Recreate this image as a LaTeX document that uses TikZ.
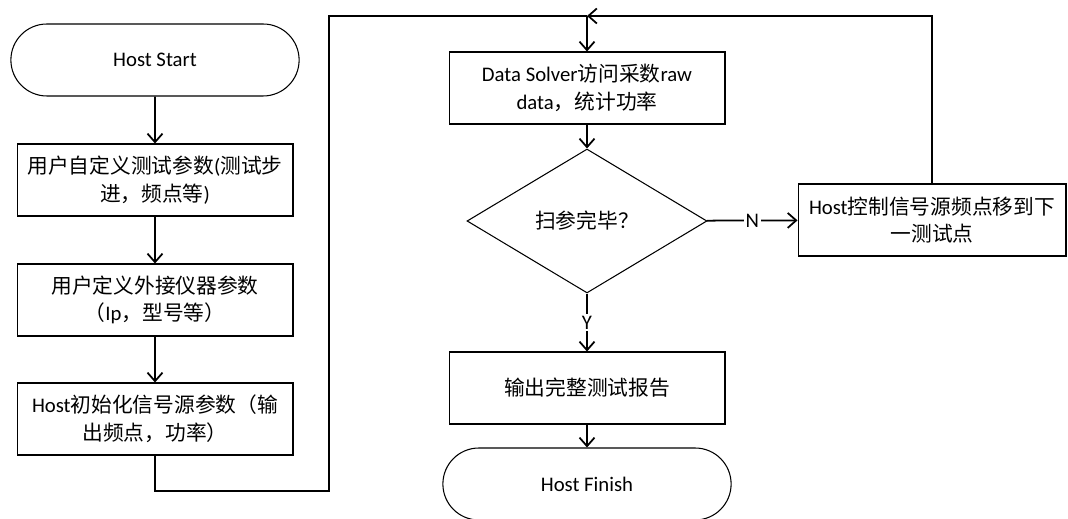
\documentclass[tikz,border=0pt]{standalone}
\usepackage{fontspec}
\setmainfont{Carlito}
\newfontfamily\cjk{Noto Sans CJK SC}
\newcommand\zh[1]{{\cjk #1}}
\usetikzlibrary{shapes.geometric,shapes.misc,arrows.meta}
\def\procnode{\node[proc]}
\def\termnode{\node[term]}

\begin{document}
\begin{tikzpicture}[x=0.02cm,y=-0.02cm,
  font=\fontsize{11.8}{15.8}\selectfont,
  proc/.style={draw,line width=0.6pt,minimum width=5.52cm,minimum height=1.44cm,align=center,inner sep=1pt},
  term/.style={draw,rounded rectangle,line width=0.6pt,minimum width=6cm,minimum height=1.44cm},
  flow/.style={line width=1pt,-{Straight Barb[length=1.7mm,width=3mm]}},
  lbl/.style={fill=white,inner sep=1pt}]
\useasboundingbox (0,0) rectangle (1068,519);
\termnode (start) at (155,60) {Host Start};
\procnode (userpar) at (155,180) {\zh{用户自定义测试参数}(\zh{测试步}\\\zh{进，频点等})};
\procnode (instpar) at (155,300) {\zh{用户定义外接仪器参数}\\\zh{（}Ip\zh{，型号等）}};
\procnode (init) at (155,419) {Host\zh{初始化信号源参数（输}\\\zh{出频点，功率）}};
\procnode (solver) at (587,88) {Data Solver\zh{访问采数}raw\\data\zh{，统计功率}};
\node[draw,diamond,line width=0.6pt,minimum width=4.8cm,minimum height=2.88cm,inner sep=0pt] (done) at (587,221) {\zh{扫参完毕？}};
\node[proc,minimum width=5.36cm] (next) at (932,220) {Host\zh{控制信号源频点移到下}\\\zh{一测试点}};
\procnode (report) at (587,388) {\zh{输出完整测试报告}};
\termnode (finish) at (587,484) {Host Finish};
\coordinate (join) at (587,16);
\coordinate (bend) at (329,491);
\draw[flow] (start) -- (userpar);
\draw[flow] (userpar) -- (instpar);
\draw[flow] (instpar) -- (init);
\draw[line width=1pt] (init.south) |- (bend) |- (join);
\draw[flow] (join) -- (solver);
\draw[flow] (solver) -- (done);
\draw[flow] (done) -- node[lbl] {N} (next);
\draw[flow] (done) -- node[lbl] {Y} (report);
\draw[flow] (report) -- (finish);
\draw[flow] (next.north) |- (join);
\end{tikzpicture}
\end{document}
